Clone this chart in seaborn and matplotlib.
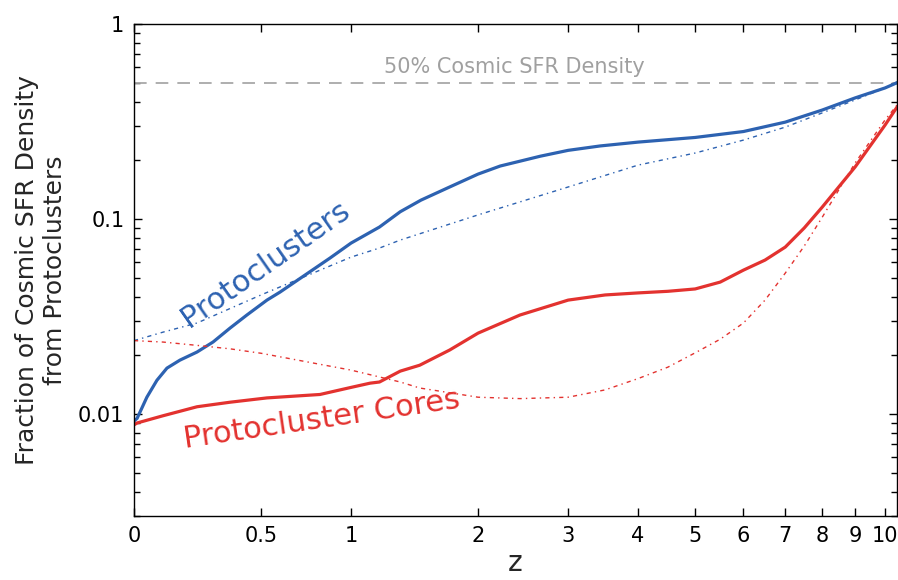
import numpy as np
import pandas as pd
import matplotlib
matplotlib.use("Agg")
import matplotlib.pyplot as plt
import matplotlib.ticker as mticker
import seaborn as sns

# values (redshift z vs fraction of cosmic SFR density)
z_pc = [0, 0.01, 0.042, 0.076, 0.111, 0.158, 0.223, 0.287, 0.359, 0.434, 0.529, 0.594,
        0.87, 1.0, 1.19, 1.34, 1.5, 1.74, 2.0, 2.22, 2.43, 2.66, 3, 3.43, 4, 5, 6, 7, 8,
        9, 10, 10.43]
f_pc = [0.0092, 0.0095, 0.0122, 0.0149, 0.0172, 0.0189, 0.0208, 0.0234, 0.0276, 0.0322,
        0.0384, 0.0422, 0.0631, 0.0753, 0.091, 0.109, 0.125, 0.146, 0.170, 0.187, 0.198,
        0.21, 0.225, 0.237, 0.248, 0.262, 0.281, 0.314, 0.362, 0.418, 0.47, 0.5]

z_pc_model = [0, 0.097, 0.223, 0.5, 1.0, 1.19, 1.34, 2, 3, 4, 5, 6, 7, 8, 9, 10, 10.43]
f_pc_model = [0.0238, 0.0263, 0.0293, 0.0408, 0.0638, 0.071, 0.078, 0.105, 0.146, 0.189,
              0.218, 0.254, 0.296, 0.35, 0.408, 0.47, 0.505]

z_core = [0, 0.01, 0.097, 0.223, 0.359, 0.529, 0.811, 1.0, 1.125, 1.19, 1.34, 1.49, 1.74,
          2.0, 2.43, 3, 3.5, 4, 4.5, 5, 5.5, 6, 6.5, 7, 7.5, 8, 9, 10, 10.43]
f_core = [0.0088, 0.009, 0.0098, 0.0109, 0.0115, 0.0121, 0.0126, 0.0137, 0.0144, 0.0146,
          0.0166, 0.0178, 0.0213, 0.026, 0.0322, 0.0384, 0.0408, 0.0418, 0.0426, 0.0438,
          0.0475, 0.0547, 0.0616, 0.0718, 0.09, 0.115, 0.185, 0.303, 0.375]

z_core_model = [0, 0.097, 0.223, 0.359, 0.5, 1.0, 1.34, 1.49, 2, 2.43, 3, 3.5, 4, 4.5, 5,
                5.5, 6, 6.5, 7, 7.5, 8, 9, 10, 10.43]
f_core_model = [0.0238, 0.0234, 0.0225, 0.0216, 0.0205, 0.0168, 0.0146, 0.0136, 0.0122,
                0.012, 0.0122, 0.0133, 0.0152, 0.0174, 0.0206, 0.0242, 0.0293, 0.0384,
                0.0528, 0.0727, 0.102, 0.194, 0.322, 0.384]

x_ticks = [0, 0.5, 1, 2, 3, 4, 5, 6, 7, 8, 9, 10]
x_tick_labels = ["0", "0.5", "1", "2", "3", "4", "5", "6", "7", "8", "9", "10"]
y_ticks = [0.01, 0.1, 1]
y_tick_labels = ["0.01", "0.1", "1"]
half_level = 0.5

BLUE = "#2d62b1"
RED = "#e3322f"

sns.set_style("ticks")
plt.rcParams["font.family"] = ["DejaVu Sans"]

fig = plt.figure(figsize=(8.98, 5.8), dpi=100)
ax = fig.add_axes([0.1492, 0.1103, 0.8497, 0.8483])

sns.lineplot(x=z_pc, y=f_pc, ax=ax, color=BLUE, linewidth=2.3, estimator=None)
sns.lineplot(x=z_pc_model, y=f_pc_model, ax=ax, color=BLUE, linewidth=1.0,
             linestyle=(0, (3, 3, 1, 3)), estimator=None)
sns.lineplot(x=z_core, y=f_core, ax=ax, color=RED, linewidth=2.3, estimator=None)
sns.lineplot(x=z_core_model, y=f_core_model, ax=ax, color=RED, linewidth=1.0,
             linestyle=(0, (3, 3, 1, 3)), estimator=None)
ax.axhline(half_level, color="#a8a8a8", linewidth=1.3, linestyle=(0, (7, 5)), zorder=1)

ax.set_xscale("function", functions=(np.log1p, np.expm1))
ax.set_yscale("log")
ax.set_xlim(0, 10.43)
ax.set_ylim(0.003, 1)

ax.set_xticks(x_ticks)
ax.set_xticklabels(x_tick_labels)
ax.xaxis.set_minor_locator(mticker.NullLocator())
ax.yaxis.set_major_locator(mticker.FixedLocator(y_ticks))
ax.yaxis.set_major_formatter(mticker.FixedFormatter(y_tick_labels))
ax.yaxis.set_minor_locator(mticker.LogLocator(base=10, subs=np.arange(2, 10)))
ax.yaxis.set_minor_formatter(mticker.NullFormatter())

ax.tick_params(which="both", direction="in", top=True, right=True, colors="black",
               labelsize=15, pad=7)
ax.tick_params(which="major", length=6, width=1)
ax.tick_params(which="minor", length=4, width=1)
for s in ax.spines.values():
    s.set_color("black")
    s.set_linewidth(1.0)

ax.set_xlabel("z", fontsize=20, labelpad=2)
ax.set_ylabel("Fraction of Cosmic SFR Density\nfrom Protoclusters", fontsize=18,
              labelpad=8)

ax.text(2.37, 0.561, "50% Cosmic SFR Density", color="#a0a0a0", fontsize=15,
        ha="center", va="baseline")
ax.text(0.544, 0.0544, "Protoclusters", color=BLUE, fontsize=22, rotation=35,
        rotation_mode="anchor", ha="center", va="baseline")
ax.text(0.829, 0.00853, "Protocluster Cores", color=RED, fontsize=22, rotation=8.3,
        rotation_mode="anchor", ha="center", va="baseline")

fig.savefig("out.png", dpi=100)
